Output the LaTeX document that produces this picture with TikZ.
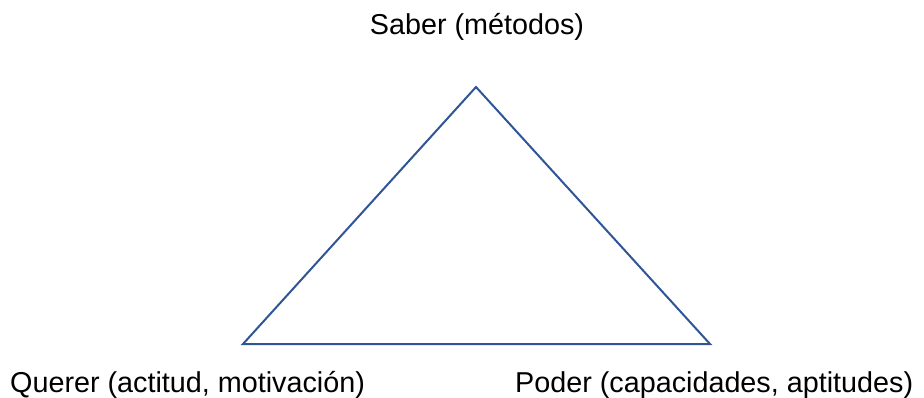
\documentclass[tikz,border=0pt]{standalone}
\usepackage{fontspec}
\setmainfont{Liberation Sans}
\definecolor{tribblue}{RGB}{47, 85, 151}

\begin{document}
\begin{tikzpicture}[x=1pt, y=-1pt, every node/.style={font=\fontsize{28.75}{34}\selectfont, inner sep=0pt}]
                    \useasboundingbox (0,0) rectangle (924,398);
                    \coordinate (apex) at (476,87);
                    \coordinate (bl) at (243,344);
                    \coordinate (br) at (710,344);
                    \node[anchor=base] (saber) at (477,35) {Saber (métodos)};
                    \node[anchor=base west] (querer) at (10,392) {Querer (actitud, motivación)};
                    \node[anchor=base west] (poder) at (515,392) {Poder (capacidades, aptitudes)};
                    \draw[tribblue, line width=2pt] (apex) -- (bl) -- (br) -- cycle;
                \end{tikzpicture}
\end{document}
